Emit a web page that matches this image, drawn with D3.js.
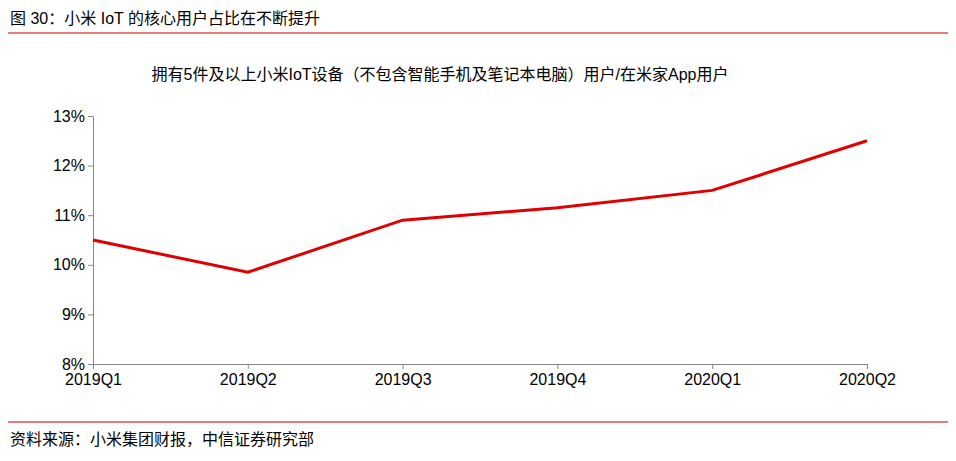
<!DOCTYPE html>
<html><head><meta charset="utf-8">
<script src="https://cdn.jsdelivr.net/npm/d3@7"></script>
<style>body{margin:0;background:#fff;font-family:"Liberation Sans","Noto Sans CJK SC",sans-serif}</style>
</head><body><svg id="c" width="956" height="461"></svg>
<script>
var quarters = ["2019Q1","2019Q2","2019Q3","2019Q4","2020Q1","2020Q2"];
var share = [10.5, 9.85, 10.9, 11.15, 11.5, 12.5];
var yTicks = [8,9,10,11,12,13];

var svg = d3.select("#c");
var x = d3.scalePoint().domain(quarters).range([93,867]);
var y = d3.scaleLinear().domain([8,13]).range([364,116]);

svg.append("text").attr("x",10).attr("y",24).attr("font-size",16).attr("fill","#000")
  .text("图 30：小米 IoT 的核心用户占比在不断提升");
svg.append("line").attr("x1",8).attr("x2",948).attr("y1",33).attr("y2",33).attr("stroke","#c00000").attr("stroke-width",1);
svg.append("text").attr("x",440).attr("y",80).attr("text-anchor","middle").attr("font-size",16)
  .text("拥有5件及以上小米IoT设备（不包含智能手机及笔记本电脑）用户/在米家App用户");

var ya = svg.append("g").attr("transform","translate(93,0)")
  .call(d3.axisLeft(y).tickValues(yTicks).tickFormat(function(d){return d+"%";}).tickSize(5).tickSizeOuter(0));
var xa = svg.append("g").attr("transform","translate(0,364)")
  .call(d3.axisBottom(x).tickSize(5).tickSizeOuter(0));
[ya,xa].forEach(function(a){
  a.selectAll("path,line").attr("stroke","#888");
  a.selectAll("text").attr("font-size",16).attr("fill","#000").attr("font-family","Liberation Sans, sans-serif");
});
ya.selectAll("text").attr("x",-8);
xa.selectAll("text").attr("y",10);

svg.append("path").datum(share)
  .attr("d", d3.line().x(function(d,i){return x(quarters[i]);}).y(function(d){return y(d);}))
  .attr("fill","none").attr("stroke","#e00000").attr("stroke-width",3);

svg.append("line").attr("x1",8).attr("x2",948).attr("y1",422).attr("y2",422).attr("stroke","#c00000").attr("stroke-width",1);
svg.append("text").attr("x",10).attr("y",445).attr("font-size",16).text("资料来源：小米集团财报，中信证券研究部");
</script></body></html>
